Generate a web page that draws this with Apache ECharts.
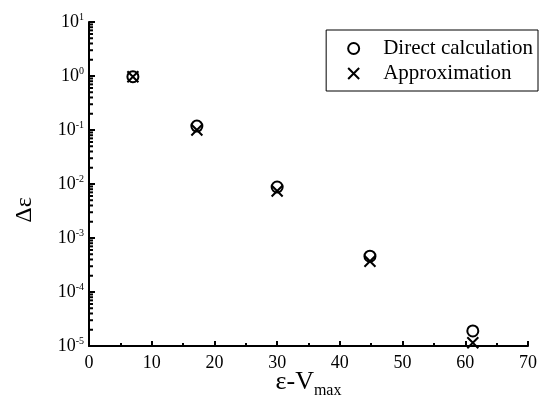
<!DOCTYPE html>
<html>
<head>
<meta charset="utf-8">
<script src="https://cdn.jsdelivr.net/npm/echarts@6/dist/echarts.min.js"></script>
<style>html,body{margin:0;padding:0;background:#fff;}#c{width:542px;height:404px;}</style>
</head>
<body>
<div id="c"></div>
<script>
const xValues = [7, 17.2, 30, 44.8, 61.2];
const directValues = [0.97, 0.118, 0.0088, 0.00046, 0.000019];
const approxValues = [0.97, 0.100, 0.0074, 0.00037, 0.0000115];
const xTicks = [0, 10, 20, 30, 40, 50, 60, 70];
const yDecades = [-5, -4, -3, -2, -1, 0, 1];

const FONT = '"Liberation Serif", "DejaVu Serif", serif';
const crossPath = 'path://M0,0L10,10M10,0L0,10';

const minorY = [];
for (let d = -5; d <= 0; d++) for (let k = 2; k <= 9; k++) minorY.push([0, k * Math.pow(10, d)]);

const chart = echarts.init(document.getElementById('c'));
chart.setOption({
  animation: false,
  backgroundColor: '#fff',
  grid: { left: 89, right: 14, top: 22, bottom: 58, containLabel: false, outerBoundsMode: 'none' },
  legend: {
    right: 4, top: 30, orient: 'vertical',
    borderColor: '#000', borderWidth: 1, borderRadius: 0,
    padding: [8, 5, 7, 21], itemGap: 4, itemWidth: 11, itemHeight: 11,
    textStyle: { fontFamily: FONT, fontSize: 21, color: '#000', padding: [0, 0, 0, 19] },
    data: [
      { name: 'Direct calculation', icon: 'circle', itemStyle: { color: 'transparent', borderColor: '#000', borderWidth: 2 } },
      { name: 'Approximation', icon: crossPath, itemStyle: { color: 'transparent', borderColor: '#000', borderWidth: 2 } }
    ]
  },
  xAxis: {
    type: 'value', min: 0, max: 70, interval: 10,
    axisLine: { lineStyle: { color: '#000', width: 2 } },
    axisTick: { inside: true, length: 5, lineStyle: { color: '#000', width: 2 } },
    minorTick: { show: true, splitNumber: 2, length: 3, lineStyle: { color: '#000', width: 2 } },
    splitLine: { show: false },
    axisLabel: { color: '#000', fontFamily: FONT, fontSize: 18, margin: 8 },
    name: 'ε-V{sub|max}', nameLocation: 'middle', nameGap: 19, nameMoveOverlap: false,
    nameTextStyle: {
      color: '#000', fontFamily: FONT, fontSize: 26,
      rich: { sub: { fontFamily: FONT, fontSize: 16, color: '#000', verticalAlign: 'bottom', padding: [18, 0, 0, 0] } }
    }
  },
  yAxis: {
    type: 'log', logBase: 10, min: 1e-5, max: 10, splitNumber: 6,
    axisLine: { lineStyle: { color: '#000', width: 2 } },
    axisTick: { inside: true, length: 6, lineStyle: { color: '#000', width: 2 } },
    splitLine: { show: false },
    axisLabel: {
      color: '#000', fontFamily: FONT, fontSize: 18, margin: 5,
      formatter: function (v) {
        const e = Math.round(Math.log10(v));
        return '10{s|' + (e < 0 ? '-' + (-e) : e) + '}';
      },
      rich: { s: { fontFamily: FONT, fontSize: 10, color: '#000', verticalAlign: 'top', padding: [0, 0, 9, 0] } }
    },
    name: 'Δε', nameLocation: 'middle', nameGap: 52, nameRotate: 90, nameMoveOverlap: false,
    nameTextStyle: { color: '#000', fontFamily: FONT, fontSize: 24, padding: [0, 52, 0, 0] }
  },
  series: [
    {
      type: 'custom', silent: true, data: minorY, z: 1,
      renderItem: function (params, api) {
        const p = api.coord([api.value(0), api.value(1)]);
        return { type: 'line', shape: { x1: p[0], y1: p[1], x2: p[0] + 4, y2: p[1] }, style: { stroke: '#000', lineWidth: 2 } };
      }
    },
    {
      name: 'Direct calculation', type: 'scatter', symbol: 'circle', symbolSize: 11,
      itemStyle: { color: 'transparent', borderColor: '#000', borderWidth: 2, opacity: 1 },
      data: xValues.map((x, i) => [x, directValues[i]]), z: 3
    },
    {
      name: 'Approximation', type: 'scatter', symbol: crossPath, symbolSize: 11,
      itemStyle: { color: 'transparent', borderColor: '#000', borderWidth: 2, opacity: 1 },
      data: xValues.map((x, i) => [x, approxValues[i]]), z: 4
    }
  ]
});
</script>
</body>
</html>
